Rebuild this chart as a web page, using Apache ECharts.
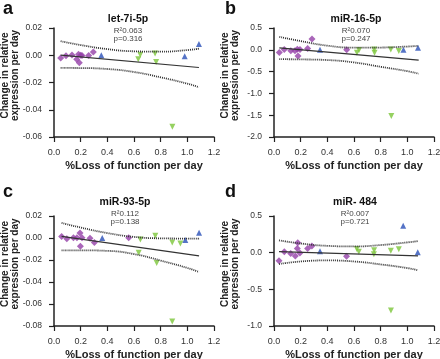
<!DOCTYPE html>
<html>
<head>
<meta charset="utf-8">
<script src="https://cdn.jsdelivr.net/npm/echarts@6/dist/echarts.min.js"></script>
<style>
  html, body { margin: 0; padding: 0; background: #fff; }
  #chart { width: 440px; height: 359px; }
</style>
</head>
<body>
<div id="chart"></div>
<script>
// panel a: let-7i-5p
const aPurple = [[0.05, -0.0021], [0.09, -0.0004], [0.135, 0.0002], [0.17, -0.0029], [0.184, 0.0008], [0.19, -0.0055], [0.2, 0.0], [0.21, -0.0002], [0.26, -0.0001], [0.295, 0.0023]];
const aGreen = [[0.632, -0.0029], [0.647, 0.0003], [0.758, 0.0013], [0.766, -0.005], [0.888, -0.0525]];
const aBlue = [[0.355, 0.0], [0.98, -0.0007], [1.087, 0.0083]];
const aFit = [[0.05, 0.0001], [1.087, -0.009]];
const aUpper = [[0.05, 0.0103], [0.2, 0.0075], [0.4, 0.0045], [0.6, 0.0029], [0.8, 0.0026], [1.0, 0.0038], [1.087, 0.0048]];
const aLower = [[0.05, -0.0093], [0.2, -0.0094], [0.4, -0.0101], [0.6, -0.0123], [0.8, -0.0162], [1.0, -0.0208], [1.087, -0.0235]];

// panel b: miR-16-5p
const bPurple = [[0.04, -0.06], [0.077, 0.008], [0.126, -0.022], [0.157, -0.022], [0.175, 0.012], [0.18, -0.14], [0.195, 0.008], [0.252, 0.031], [0.285, 0.25], [0.545, 0.004]];
const bGreen = [[0.622, -0.068], [0.638, -0.005], [0.752, 0.008], [0.754, -0.068], [0.876, 0.008], [0.936, -0.03], [0.88, -1.52]];
const bBlue = [[0.345, 0.0], [0.971, 0.003], [1.08, 0.047]];
const bFit = [[0.04, 0.046], [1.085, -0.236]];
const bUpper = [[0.04, 0.297], [0.2, 0.2], [0.4, 0.095], [0.6, 0.05], [0.8, 0.052], [1.0, 0.075], [1.085, 0.09]];
const bLower = [[0.04, -0.215], [0.2, -0.22], [0.4, -0.235], [0.6, -0.29], [0.8, -0.39], [1.0, -0.49], [1.085, -0.55]];

// panel c: miR-93-5p
const cPurple = [[0.057, 0.0013], [0.096, -0.0006], [0.146, 0.0002], [0.172, 0.0002], [0.195, 0.0045], [0.198, -0.0076], [0.21, 0.0003], [0.27, -0.0002], [0.303, -0.004], [0.56, 0.0003]];
const cGreen = [[0.648, -0.0013], [0.635, -0.0134], [0.76, 0.002], [0.77, -0.0227], [0.887, -0.0041], [0.948, -0.005], [0.887, -0.076]];
const cBlue = [[0.362, -0.0001], [0.985, -0.0019], [1.088, 0.0048]];
const cFit = [[0.057, 0.0015], [1.088, -0.0163]];
const cUpper = [[0.057, 0.0138], [0.2, 0.0095], [0.4, 0.0045], [0.6, 0.001], [0.8, -0.0003], [1.0, -0.0005], [1.088, -0.0005]];
const cLower = [[0.057, -0.0112], [0.2, -0.0112], [0.4, -0.0117], [0.6, -0.0146], [0.8, -0.0205], [1.0, -0.0272], [1.088, -0.031]];

// panel d: miR- 484
const dPurple = [[0.0375, -0.11], [0.0775, 0.011], [0.125, -0.01], [0.16, -0.046], [0.175, 0.058], [0.178, 0.135], [0.194, -0.005], [0.252, 0.056], [0.284, 0.09], [0.544, -0.05]];
const dGreen = [[0.621, 0.049], [0.636, 0.011], [0.751, 0.033], [0.749, -0.021], [0.876, 0.025], [0.936, 0.047], [0.877, -0.79]];
const dBlue = [[0.345, 0.02], [0.969, 0.367], [1.078, 0.004]];
const dFit = [[0.0375, 0.015], [1.08, -0.045]];
const dUpper = [[0.0375, 0.168], [0.2, 0.125], [0.4, 0.093], [0.6, 0.085], [0.8, 0.104], [1.0, 0.14], [1.08, 0.158]];
const dLower = [[0.0375, -0.155], [0.2, -0.12], [0.4, -0.106], [0.6, -0.12], [0.8, -0.16], [1.0, -0.21], [1.08, -0.24]];

const panelLetters = ['a', 'b', 'c', 'd'];
const panelTitles = ['let-7i-5p', 'miR-16-5p', 'miR-93-5p', 'miR- 484'];
const panelStats = ['R\u00b20.063\np=0.316', 'R\u00b20.070\np=0.247', 'R\u00b20.112\np=0.138', 'R\u00b20.007\np=0.721'];
const yRanges = [[-0.06, 0.02, 0.02, 2], [-2.0, 0.5, 0.5, 1], [-0.08, 0.02, 0.02, 2], [-1.0, 0.5, 0.5, 1]];
const panelData = [
  [aPurple, aGreen, aBlue, aFit, aUpper, aLower],
  [bPurple, bGreen, bBlue, bFit, bUpper, bLower],
  [cPurple, cGreen, cBlue, cFit, cUpper, cLower],
  [dPurple, dGreen, dBlue, dFit, dUpper, dLower]
];

const narrow = "'Liberation Sans Narrow', 'Liberation Sans', Arial, sans-serif";
const sans = "'Liberation Sans', Arial, sans-serif";
const grids = [
  { left: 54, top: 28, width: 160, height: 109 },
  { left: 274, top: 28, width: 160, height: 109 },
  { left: 54, top: 216, width: 160, height: 110 },
  { left: 274, top: 216, width: 160, height: 110 }
];

const chart = echarts.init(document.getElementById('chart'), null, { renderer: 'canvas' });

const axisLine = { show: true, onZero: false, lineStyle: { color: '#222', width: 1.5 } };
const axisTick = { show: true, length: 5, lineStyle: { color: '#222', width: 1.2 } };

const xAxes = grids.map((g, i) => ({
  gridIndex: i,
  type: 'value',
  min: 0, max: 1.2, interval: 0.2,
  axisLine: axisLine,
  axisTick: axisTick,
  splitLine: { show: false },
  axisLabel: { color: '#333', fontSize: 9, fontFamily: narrow, margin: 11, formatter: v => v.toFixed(1) },
  name: '%Loss of function per day',
  nameLocation: 'middle',
  nameGap: 23,
  nameMoveOverlap: false,
  nameTextStyle: { color: '#222', fontSize: 11, fontWeight: 'bold', fontFamily: narrow }
}));

const yAxes = grids.map((g, i) => ({
  gridIndex: i,
  type: 'value',
  min: yRanges[i][0], max: yRanges[i][1], interval: yRanges[i][2],
  axisLine: axisLine,
  axisTick: axisTick,
  splitLine: { show: false },
  axisLabel: { color: '#333', fontSize: 8.5, fontFamily: narrow, margin: 12, formatter: v => v.toFixed(yRanges[i][3]) },
  name: 'Change in relative\nexpression per day',
  nameLocation: 'middle',
  nameRotate: 90,
  nameGap: 34,
  nameMoveOverlap: false,
  nameTextStyle: { color: '#222', fontSize: 10, fontWeight: 'bold', fontFamily: sans, lineHeight: 10, padding: [0, 0, 0, 14] }
}));

const titleCenters = [[128, 14], [356, 14], [125, 197], [355, 197]];
const letterPos = [[3, 0], [225, 0], [3, 183], [225, 183]];
const titles = [];
panelTitles.forEach((t, i) => {
  titles.push({
    text: t,
    subtext: panelStats[i],
    left: titleCenters[i][0],
    top: titleCenters[i][1],
    textAlign: 'center',
    padding: 0,
    itemGap: 2,
    textStyle: { color: '#111', fontSize: 10.5, fontWeight: 'bold', fontFamily: narrow },
    subtextStyle: { color: '#444', fontSize: 8, fontFamily: narrow, lineHeight: 8 }
  });
  titles.push({
    text: panelLetters[i],
    left: letterPos[i][0],
    top: letterPos[i][1],
    padding: 0,
    textStyle: { color: '#111', fontSize: 18, fontWeight: 'bold', fontFamily: sans }
  });
});

const series = [];
panelData.forEach((d, i) => {
  series.push({
    type: 'line', xAxisIndex: i, yAxisIndex: i, data: d[4], smooth: true, symbol: 'none', silent: true,
    lineStyle: { color: '#333', width: 1.8, type: [1, 1] }
  });
  series.push({
    type: 'line', xAxisIndex: i, yAxisIndex: i, data: d[5], smooth: true, symbol: 'none', silent: true,
    lineStyle: { color: '#333', width: 1.8, type: [1, 1] }
  });
  series.push({
    type: 'line', xAxisIndex: i, yAxisIndex: i, data: d[3], symbol: 'none', silent: true,
    lineStyle: { color: '#333', width: 1.2 }
  });
  series.push({
    type: 'scatter', xAxisIndex: i, yAxisIndex: i, data: d[0], symbol: 'diamond', symbolSize: 7,
    itemStyle: { color: '#9440a8' }
  });
  series.push({
    type: 'scatter', xAxisIndex: i, yAxisIndex: i, data: d[1], symbol: 'triangle', symbolRotate: 180, symbolSize: 6,
    itemStyle: { color: '#7cc63a' }
  });
  series.push({
    type: 'scatter', xAxisIndex: i, yAxisIndex: i, data: d[2], symbol: 'triangle', symbolSize: 6,
    itemStyle: { color: '#2a50b8' }
  });
});

chart.setOption({
  animation: false,
  backgroundColor: '#fff',
  title: titles,
  grid: grids.map(g => Object.assign({ containLabel: false, outerBoundsMode: 'none' }, g)),
  xAxis: xAxes,
  yAxis: yAxes,
  series: series
});
</script>
</body>
</html>
